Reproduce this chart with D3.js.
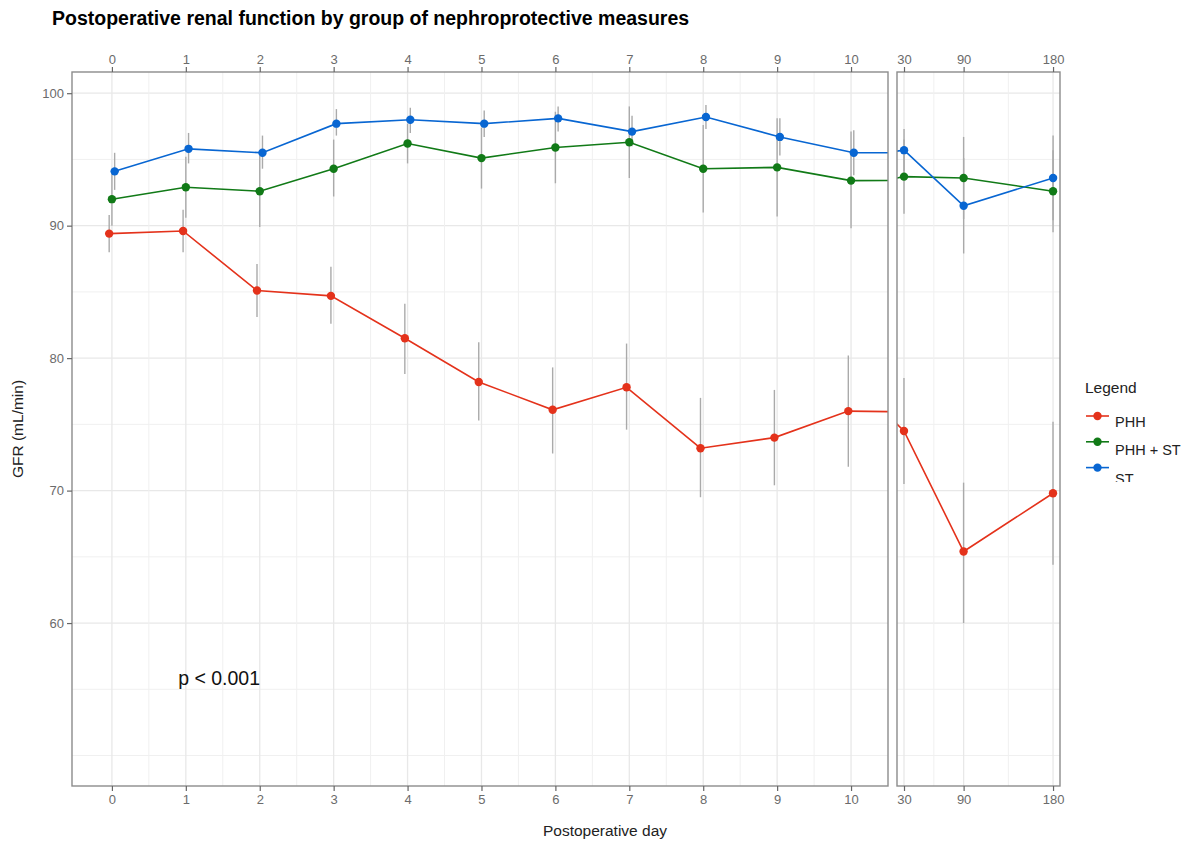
<!DOCTYPE html>
<html>
<head>
<meta charset="utf-8">
<script src="https://cdn.jsdelivr.net/npm/d3@7"></script>
<style>
  body { margin: 0; background: #fff; }
  svg { font-family: "Liberation Sans", Arial, sans-serif; }
</style>
</head>
<body>
<div id="chart"></div>
<script>
// Data
const days = [0, 1, 2, 3, 4, 5, 6, 7, 8, 9, 10, 30, 90, 180];
const earlyTicks = [0, 1, 2, 3, 4, 5, 6, 7, 8, 9, 10];
const lateTicks = [30, 90, 180];
const yTicks = [60, 70, 80, 90, 100];
const groups = ["PHH", "PHH + ST", "ST"];

const phhMean = [89.4, 89.6, 85.1, 84.7, 81.5, 78.2, 76.1, 77.8, 73.2, 74.0, 76.0, 74.5, 65.4, 69.8];
const phhLow  = [88.0, 88.0, 83.1, 82.6, 78.8, 75.3, 72.8, 74.6, 69.5, 70.4, 71.8, 70.5, 60.0, 64.4];
const phhHigh = [90.8, 91.2, 87.1, 86.9, 84.1, 81.2, 79.3, 81.1, 77.0, 77.6, 80.2, 78.5, 70.6, 75.2];

const phhStMean = [92.0, 92.9, 92.6, 94.3, 96.2, 95.1, 95.9, 96.3, 94.3, 94.4, 93.4, 93.7, 93.6, 92.6];
const phhStLow  = [90.0, 90.6, 89.9, 92.2, 94.7, 92.8, 93.2, 93.6, 91.0, 90.7, 89.8, 90.9, 90.5, 89.5];
const phhStHigh = [94.0, 95.2, 95.3, 96.5, 97.7, 97.4, 98.6, 99.0, 97.6, 98.1, 97.1, 96.5, 96.7, 95.7];

const stMean = [94.1, 95.8, 95.5, 97.7, 98.0, 97.7, 98.1, 97.1, 98.2, 96.7, 95.5, 95.7, 91.5, 93.6];
const stLow  = [92.7, 94.7, 94.3, 96.8, 97.0, 96.7, 97.1, 96.0, 97.3, 95.3, 93.8, 94.1, 87.9, 90.4];
const stHigh = [95.5, 97.0, 96.8, 98.8, 98.9, 98.7, 99.0, 98.3, 99.1, 98.1, 97.2, 97.3, 95.1, 96.8];

const colors = ["#e4321b", "#117a17", "#0866d2"];
const dodge = [-0.037, 0, 0.037];

const series = groups.map((g, k) => ({
    name: g,
    color: colors[k],
    values: days.map((d, i) => ({
        day: d + dodge[k],
        mean: [phhMean, phhStMean, stMean][k][i],
        low: [phhLow, phhStLow, stLow][k][i],
        high: [phhHigh, phhStHigh, stHigh][k][i],
    })),
}));

const width = 1187, height = 841;
const plotTop = 72, plotBottom = 786;

const svg = d3.select("#chart").append("svg")
    .attr("width", width)
    .attr("height", height);

const y = d3.scaleLinear().domain([47.7, 101.6]).range([plotBottom, plotTop]);

// two panels: early days and late follow-up
const panels = [
    { id: "early", x: d3.scaleLinear().domain([-0.54, 10.5]).range([72, 888]), ticks: earlyTicks, minor: d3.range(0.5, 10, 1) },
    { id: "late", x: d3.scaleLinear().domain([22.95, 187]).range([897, 1060]), ticks: lateTicks, minor: [60, 135] },
];

panels.forEach((p) => {
    const [x0, x1] = p.x.range();
    const g = svg.append("g");

    svg.append("defs").append("clipPath")
        .attr("id", "clip-" + p.id)
        .append("rect")
        .attr("x", x0).attr("y", plotTop)
        .attr("width", x1 - x0).attr("height", plotBottom - plotTop);

    // grid
    const grid = g.append("g");
    grid.selectAll(".hminor")
        .data([50, 55, 65, 75, 85, 95])
        .join("line")
        .attr("x1", x0).attr("x2", x1)
        .attr("y1", (d) => y(d)).attr("y2", (d) => y(d))
        .attr("stroke", "#f0f0f0").attr("stroke-width", 1);
    grid.selectAll(".hmajor")
        .data(yTicks)
        .join("line")
        .attr("x1", x0).attr("x2", x1)
        .attr("y1", (d) => y(d)).attr("y2", (d) => y(d))
        .attr("stroke", "#e8e8e8").attr("stroke-width", 1.3);
    grid.selectAll(".vminor")
        .data(p.minor)
        .join("line")
        .attr("x1", (d) => p.x(d)).attr("x2", (d) => p.x(d))
        .attr("y1", plotTop).attr("y2", plotBottom)
        .attr("stroke", "#f0f0f0").attr("stroke-width", 1);
    grid.selectAll(".vmajor")
        .data(p.ticks)
        .join("line")
        .attr("x1", (d) => p.x(d)).attr("x2", (d) => p.x(d))
        .attr("y1", plotTop).attr("y2", plotBottom)
        .attr("stroke", "#e8e8e8").attr("stroke-width", 1.3);

    // data layer
    const plot = g.append("g").attr("clip-path", `url(#clip-${p.id})`);

    series.forEach((s) => {
        plot.append("g").selectAll("line")
            .data(s.values)
            .join("line")
            .attr("x1", (d) => p.x(d.day)).attr("x2", (d) => p.x(d.day))
            .attr("y1", (d) => y(d.low)).attr("y2", (d) => y(d.high))
            .attr("stroke", "#aaaaaa").attr("stroke-width", 1.4);
    });

    const line = d3.line().x((d) => p.x(d.day)).y((d) => y(d.mean));
    series.forEach((s) => {
        plot.append("path")
            .datum(s.values)
            .attr("d", line)
            .attr("fill", "none")
            .attr("stroke", s.color)
            .attr("stroke-width", 1.6);
    });
    series.forEach((s) => {
        plot.append("g").selectAll("circle")
            .data(s.values)
            .join("circle")
            .attr("cx", (d) => p.x(d.day))
            .attr("cy", (d) => y(d.mean))
            .attr("r", 4.2)
            .attr("fill", s.color);
    });

    // border
    g.append("rect")
        .attr("x", x0).attr("y", plotTop)
        .attr("width", x1 - x0).attr("height", plotBottom - plotTop)
        .attr("fill", "none")
        .attr("stroke", "#8c8c8c").attr("stroke-width", 1.4);

    // bottom and top axes
    const fmt = (d) => d;
    const bottomAxis = d3.axisBottom(p.x).tickValues(p.ticks).tickFormat(fmt).tickSize(5).tickPadding(4);
    const topAxis = d3.axisTop(p.x).tickValues(p.ticks).tickFormat(fmt).tickSize(5).tickPadding(3);
    [svg.append("g").attr("transform", `translate(0,${plotBottom})`).call(bottomAxis),
     svg.append("g").attr("transform", `translate(0,${plotTop})`).call(topAxis)].forEach((ax) => {
        ax.select(".domain").remove();
        ax.selectAll(".tick line").attr("stroke", "#666").attr("stroke-width", 1.2);
        ax.selectAll(".tick text").attr("fill", "#6b6b6b").attr("font-size", 13)
            .attr("font-family", "'Liberation Sans', Arial, sans-serif");
    });
});

// y axis
const yAxis = svg.append("g")
    .attr("transform", "translate(72,0)")
    .call(d3.axisLeft(y).tickValues(yTicks).tickSize(5).tickPadding(3));
yAxis.select(".domain").remove();
yAxis.selectAll(".tick line").attr("stroke", "#666").attr("stroke-width", 1.2);
yAxis.selectAll(".tick text").attr("fill", "#6b6b6b").attr("font-size", 13)
    .attr("font-family", "'Liberation Sans', Arial, sans-serif");

// titles
svg.append("text")
    .attr("x", 52).attr("y", 25)
    .attr("font-size", 19.5).attr("font-weight", "bold")
    .attr("fill", "#000")
    .text("Postoperative renal function by group of nephroprotective measures");

svg.append("text")
    .attr("x", 605).attr("y", 836)
    .attr("text-anchor", "middle")
    .attr("font-size", 15.5).attr("fill", "#222")
    .text("Postoperative day");

svg.append("text")
    .attr("transform", "translate(23,429) rotate(-90)")
    .attr("text-anchor", "middle")
    .attr("font-size", 15.5).attr("fill", "#222")
    .text("GFR (mL/min)");

// annotation
const early = panels[0].x;
svg.append("text")
    .attr("x", early(1.45)).attr("y", y(55.85) + 6.5)
    .attr("text-anchor", "middle")
    .attr("font-size", 19.5).attr("fill", "#111")
    .text("p < 0.001");

// legend (bottom entry is cut off in the reference)
svg.append("defs").append("clipPath")
    .attr("id", "legend-clip")
    .append("rect")
    .attr("x", 1070).attr("y", 370).attr("width", 117).attr("height", 112);

const legend = svg.append("g").attr("clip-path", "url(#legend-clip)");
legend.append("text")
    .attr("x", 1085).attr("y", 393)
    .attr("font-size", 15.5).attr("fill", "#222")
    .text("Legend");

groups.forEach((name, i) => {
    const ky = 416 + i * 25.8;
    legend.append("line")
        .attr("x1", 1086).attr("x2", 1109)
        .attr("y1", ky).attr("y2", ky)
        .attr("stroke", colors[i]).attr("stroke-width", 1.6);
    legend.append("circle")
        .attr("cx", 1097.5).attr("cy", ky).attr("r", 4.2)
        .attr("fill", colors[i]);
    legend.append("text")
        .attr("x", 1115).attr("y", 426.5 + i * 28.8)
        .attr("font-size", 14.5).attr("fill", "#222")
        .text(name);
});
</script>
</body>
</html>
